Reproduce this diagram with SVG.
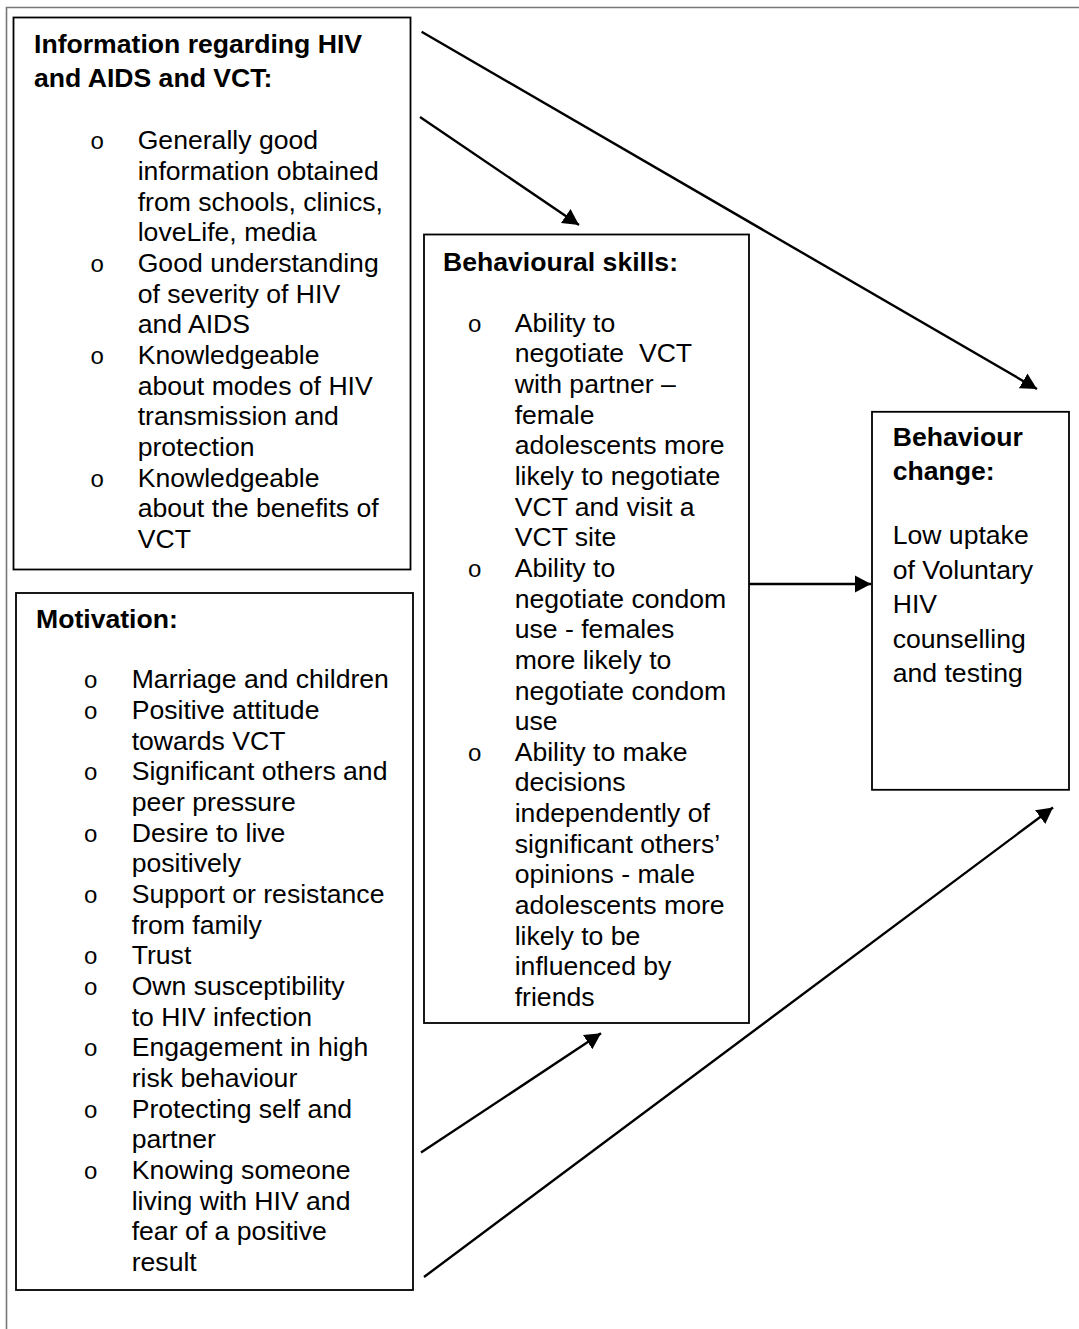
<svg xmlns="http://www.w3.org/2000/svg" width="1079" height="1329" viewBox="0 0 1079 1329">
<defs>
<style>
.box{fill:#fff;stroke:#000;stroke-width:1.8}
.t{font-family:"Liberation Sans",Arial,sans-serif;font-size:26.6px;fill:#000}
.h{font-weight:bold}
.b{font-family:"Liberation Mono","Courier New",monospace;font-size:24px;fill:#000;text-anchor:middle}
.c{stroke:#000;stroke-width:2.4;fill:none;marker-end:url(#ah)}
</style>
<marker id="ah" markerUnits="userSpaceOnUse" markerWidth="18" markerHeight="20" viewBox="0 0 18 20" refX="16" refY="10" orient="auto">
<path d="M0,1.5 L16,10 L0,18.5 Z" fill="#000"/>
</marker>
</defs>
<rect width="1079" height="1329" fill="#fff"/>
<g id="frame">
<path d="M6.5,1329 V7.5 H1079" fill="none" stroke="#777" stroke-width="1.6"/>
</g>
<g id="connectors">
<line class="c" x1="421.6" y1="31.7" x2="1037" y2="389"/>
<line class="c" x1="420" y1="117" x2="579" y2="225"/>
<line class="c" x1="421" y1="1152.6" x2="601" y2="1033.3"/>
<line class="c" x1="424" y1="1277" x2="1053" y2="807.5"/>
<line class="c" x1="749" y1="584" x2="871" y2="584"/>
</g>
<g id="info">
<rect class="box" x="13.5" y="17.5" width="397" height="552"/>
<text class="t h" x="34" y="52.7">Information regarding HIV</text>
<text class="t h" x="34" y="87.3">and AIDS and VCT:</text>
<text class="b" x="97.3" y="149.3">o</text>
<text class="b" x="97.3" y="272">o</text>
<text class="b" x="97.3" y="364">o</text>
<text class="b" x="97.3" y="486.6">o</text>
<text class="t" x="137.7" y="149.3">Generally good</text>
<text class="t" x="137.7" y="180">information obtained</text>
<text class="t" x="137.7" y="210.6">from schools, clinics,</text>
<text class="t" x="137.7" y="241.3">loveLife, media</text>
<text class="t" x="137.7" y="272">Good understanding</text>
<text class="t" x="137.7" y="302.6">of severity of HIV</text>
<text class="t" x="137.7" y="333.3">and AIDS</text>
<text class="t" x="137.7" y="364">Knowledgeable</text>
<text class="t" x="137.7" y="394.6">about modes of HIV</text>
<text class="t" x="137.7" y="425.3">transmission and</text>
<text class="t" x="137.7" y="456">protection</text>
<text class="t" x="137.7" y="486.6">Knowledgeable</text>
<text class="t" x="137.7" y="517.3">about the benefits of</text>
<text class="t" x="137.7" y="548">VCT</text>
</g>
<g id="motivation">
<rect class="box" x="16" y="593" width="397" height="697"/>
<text class="t h" x="36" y="627.7">Motivation:</text>
<text class="b" x="90.7" y="688.3">o</text>
<text class="b" x="90.7" y="719">o</text>
<text class="b" x="90.7" y="780.3">o</text>
<text class="b" x="90.7" y="841.6">o</text>
<text class="b" x="90.7" y="903">o</text>
<text class="b" x="90.7" y="964.3">o</text>
<text class="b" x="90.7" y="994.9">o</text>
<text class="b" x="90.7" y="1056.2">o</text>
<text class="b" x="90.7" y="1117.5">o</text>
<text class="b" x="90.7" y="1178.8">o</text>
<text class="t" x="131.7" y="688.3">Marriage and children</text>
<text class="t" x="131.7" y="719">Positive attitude</text>
<text class="t" x="131.7" y="749.6">towards VCT</text>
<text class="t" x="131.7" y="780.3">Significant others and</text>
<text class="t" x="131.7" y="810.9">peer pressure</text>
<text class="t" x="131.7" y="841.6">Desire to live</text>
<text class="t" x="131.7" y="872.3">positively</text>
<text class="t" x="131.7" y="903">Support or resistance</text>
<text class="t" x="131.7" y="933.6">from family</text>
<text class="t" x="131.7" y="964.3">Trust</text>
<text class="t" x="131.7" y="994.9">Own susceptibility</text>
<text class="t" x="131.7" y="1025.6">to HIV infection</text>
<text class="t" x="131.7" y="1056.2">Engagement in high</text>
<text class="t" x="131.7" y="1086.9">risk behaviour</text>
<text class="t" x="131.7" y="1117.5">Protecting self and</text>
<text class="t" x="131.7" y="1148.2">partner</text>
<text class="t" x="131.7" y="1178.8">Knowing someone</text>
<text class="t" x="131.7" y="1209.5">living with HIV and</text>
<text class="t" x="131.7" y="1240.1">fear of a positive</text>
<text class="t" x="131.7" y="1270.8">result</text>
</g>
<g id="skills">
<rect class="box" x="424" y="234.5" width="325" height="788.5"/>
<text class="t h" x="443" y="270.5">Behavioural skills:</text>
<text class="b" x="474.8" y="331.7">o</text>
<text class="b" x="474.8" y="576.9">o</text>
<text class="b" x="474.8" y="760.8">o</text>
<text class="t" x="514.7" y="331.7">Ability to</text>
<text class="t" x="514.7" y="362.3" xml:space="preserve">negotiate  VCT</text>
<text class="t" x="514.7" y="393">with partner –</text>
<text class="t" x="514.7" y="423.6">female</text>
<text class="t" x="514.7" y="454.3">adolescents more</text>
<text class="t" x="514.7" y="484.9">likely to negotiate</text>
<text class="t" x="514.7" y="515.6">VCT and visit a</text>
<text class="t" x="514.7" y="546.2">VCT site</text>
<text class="t" x="514.7" y="576.9">Ability to</text>
<text class="t" x="514.7" y="607.5">negotiate condom</text>
<text class="t" x="514.7" y="638.2">use - females</text>
<text class="t" x="514.7" y="668.8">more likely to</text>
<text class="t" x="514.7" y="699.5">negotiate condom</text>
<text class="t" x="514.7" y="730.1">use</text>
<text class="t" x="514.7" y="760.8">Ability to make</text>
<text class="t" x="514.7" y="791.4">decisions</text>
<text class="t" x="514.7" y="822.1">independently of</text>
<text class="t" x="514.7" y="852.7">significant others’</text>
<text class="t" x="514.7" y="883.4">opinions - male</text>
<text class="t" x="514.7" y="914">adolescents more</text>
<text class="t" x="514.7" y="944.7">likely to be</text>
<text class="t" x="514.7" y="975.3">influenced by</text>
<text class="t" x="514.7" y="1006">friends</text>
</g>
<g id="change">
<rect class="box" x="872" y="411.8" width="197" height="378"/>
<text class="t h" x="892.7" y="445.7">Behaviour</text>
<text class="t h" x="892.7" y="480.2">change:</text>
<text class="t" x="892.7" y="544.3">Low uptake</text>
<text class="t" x="892.7" y="578.8">of Voluntary</text>
<text class="t" x="892.7" y="613.3">HIV</text>
<text class="t" x="892.7" y="647.8">counselling</text>
<text class="t" x="892.7" y="682.3">and testing</text>
</g>
</svg>
